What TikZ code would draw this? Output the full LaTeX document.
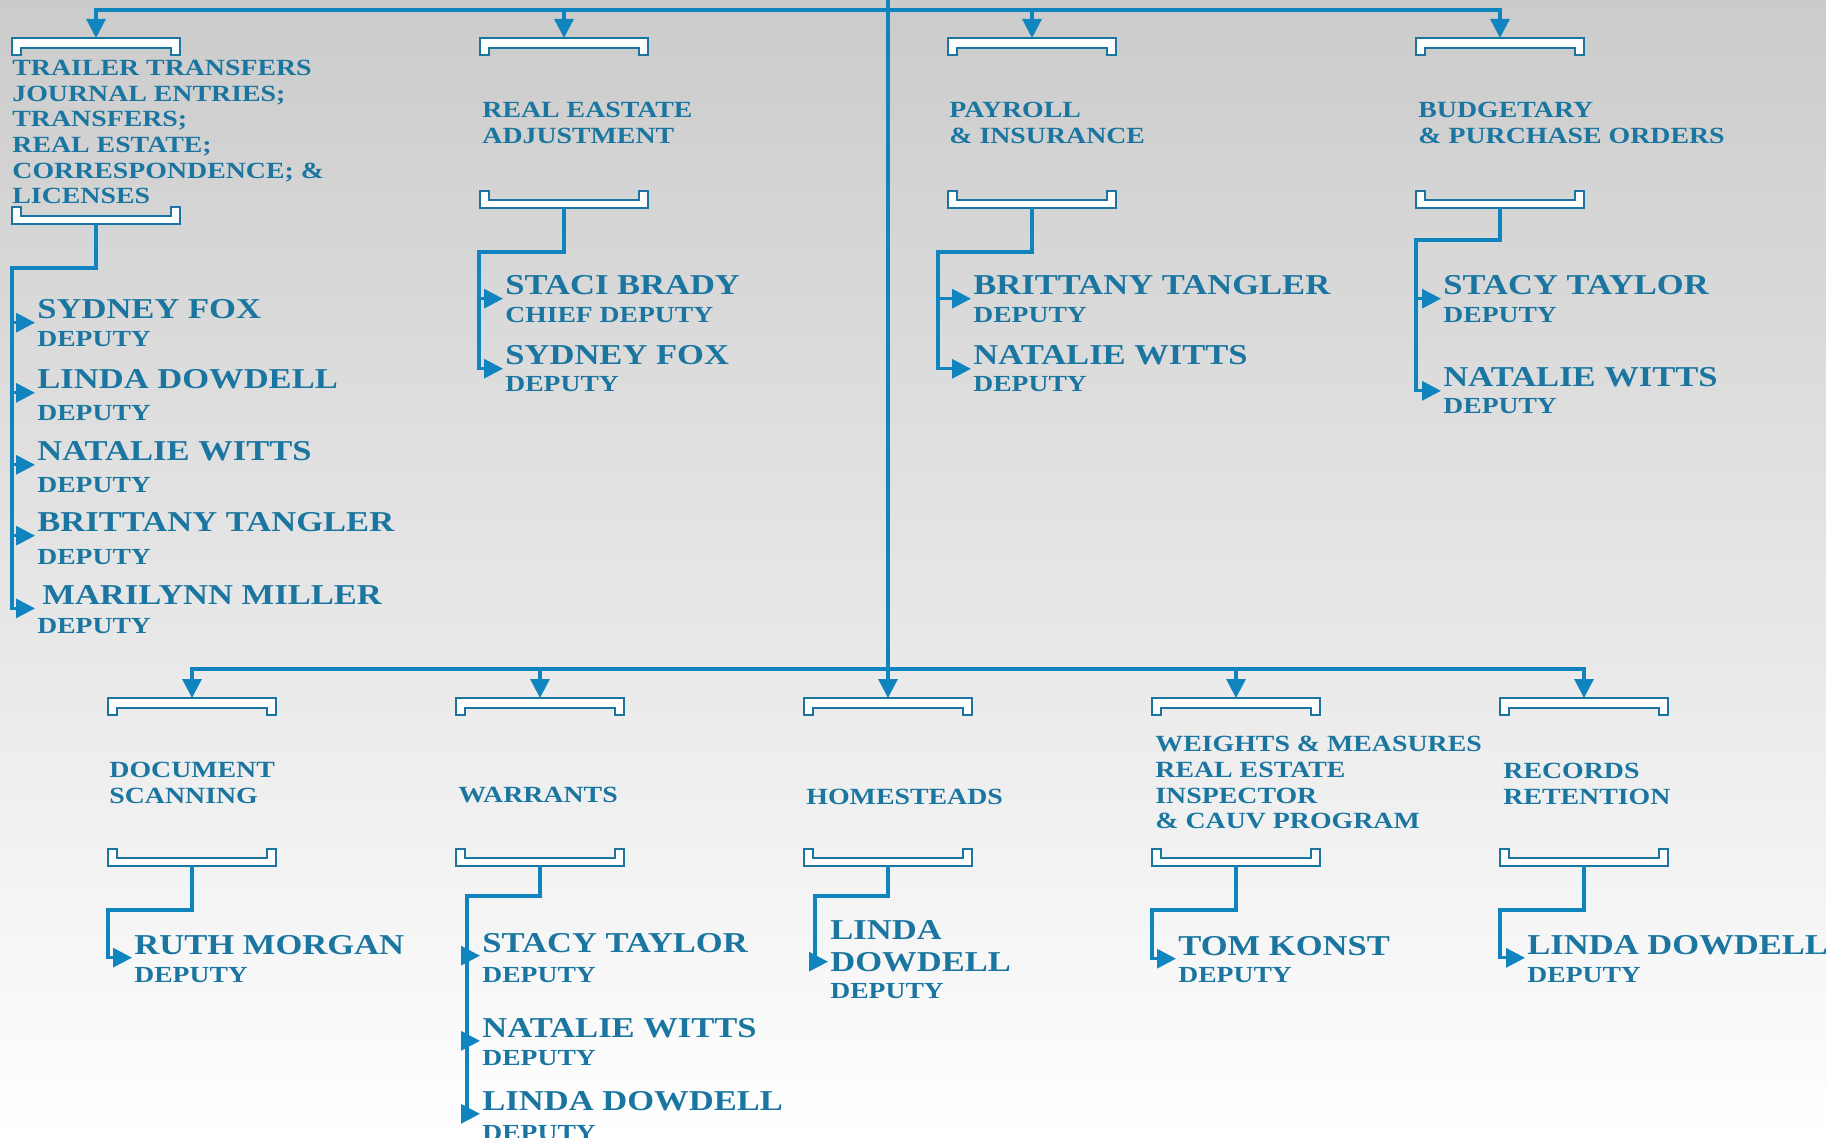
\documentclass[tikz,border=0pt]{standalone}
\usepackage{fontspec}
\newfontfamily\engr{Liberation Serif}[FakeStretch=1.2]
\usetikzlibrary{arrows.meta, positioning, calc}

\definecolor{linie}{HTML}{0F84BE}
\definecolor{schrift}{HTML}{1A76A0}
\definecolor{bgtop}{RGB}{203,203,203}
\definecolor{bgmid}{RGB}{234,234,234}

\tikzset{
  linie/.style={draw=linie, line width=1.6pt},
  pfeil/.style={linie, -{Triangle[length=9.5pt,width=9.5pt]}},
  abt/.style={anchor=north west, inner sep=0pt, align=left, text=schrift,
    font=\engr\bfseries\fontsize{11.6}{12.8}\selectfont},
  person/.style={anchor=base west, inner xsep=1pt, inner ysep=1.5pt, text=schrift,
    font=\engr\bfseries\fontsize{14.4}{16}\selectfont},
  amt/.style={anchor=base west, inner xsep=1pt, inner ysep=0pt, text=schrift,
    font=\engr\bfseries\fontsize{11.5}{12.8}\selectfont},
  klammer oben/.pic={
    \draw[draw=schrift, line width=1pt, fill=white]
      (-84,0) -- (84,0) -- (84,17) -- (75,17) -- (75,10) -- (-75,10) -- (-75,17) -- (-84,17) -- cycle;},
  klammer unten/.pic={
    \draw[draw=schrift, line width=1pt, fill=white]
      (-84,0) -- (84,0) -- (84,-17) -- (75,-17) -- (75,-8) -- (-75,-8) -- (-75,-17) -- (-84,-17) -- cycle;}
}

\begin{document}
\begin{tikzpicture}[x=0.5pt, y=-0.5pt]

\useasboundingbox (0,0) rectangle (1826,1138);

% Hintergrund
\shade[top color=bgtop, middle color=bgmid, bottom color=white] (0,0) rectangle (1826,1138);

% Koordinaten Hauptlinien
\coordinate (Q) at (888,0);
\coordinate (H1) at (888,10);
\coordinate (H2) at (888,669);

% Klammern obere Reihe
\coordinate (T1) at (96,38);
\coordinate (T2) at (564,38);
\coordinate (T3) at (1032,38);
\coordinate (T4) at (1500,38);
\coordinate (U1) at (96,224);
\coordinate (U2) at (564,208);
\coordinate (U3) at (1032,208);
\coordinate (U4) at (1500,208);

% Klammern untere Reihe
\coordinate (T5) at (192,698);
\coordinate (T6) at (540,698);
\coordinate (T7) at (888,698);
\coordinate (T8) at (1236,698);
\coordinate (T9) at (1584,698);
\coordinate (U5) at (192,866);
\coordinate (U6) at (540,866);
\coordinate (U7) at (888,866);
\coordinate (U8) at (1236,866);
\coordinate (U9) at (1584,866);

% Knickpunkte
\coordinate (K1) at (12,268);
\coordinate (K2) at (479,252);
\coordinate (K3) at (938,252);
\coordinate (K4) at (1416,240);
\coordinate (K5) at (108,910);
\coordinate (K6) at (467,896);
\coordinate (K7) at (815,896);
\coordinate (K8) at (1152,910);
\coordinate (K9) at (1500,910);

\pic at (T1) {klammer oben};
\pic at (T2) {klammer oben};
\pic at (T3) {klammer oben};
\pic at (T4) {klammer oben};
\pic at (T5) {klammer oben};
\pic at (T6) {klammer oben};
\pic at (T7) {klammer oben};
\pic at (T8) {klammer oben};
\pic at (T9) {klammer oben};

\pic at (U1) {klammer unten};
\pic at (U2) {klammer unten};
\pic at (U3) {klammer unten};
\pic at (U4) {klammer unten};
\pic at (U5) {klammer unten};
\pic at (U6) {klammer unten};
\pic at (U7) {klammer unten};
\pic at (U8) {klammer unten};
\pic at (U9) {klammer unten};

% Abteilungen
\node[abt] (a1) at (12,60) {TRAILER TRANSFERS\\JOURNAL ENTRIES;\\TRANSFERS;\\REAL ESTATE;\\CORRESPONDENCE; \&\\LICENSES};
\node[abt] (a2) at (482,102) {REAL EASTATE\\ADJUSTMENT};
\node[abt] (a3) at (949,102) {PAYROLL\\\& INSURANCE};
\node[abt] (a4) at (1418,102) {BUDGETARY\\\& PURCHASE ORDERS};
\node[abt] (a5) at (109,762) {DOCUMENT\\SCANNING};
\node[abt] (a6) at (458,787) {WARRANTS};
\node[abt] (a7) at (806,789) {HOMESTEADS};
\node[abt] (a8) at (1155,736) {WEIGHTS \& MEASURES\\REAL ESTATE\\INSPECTOR\\\& CAUV PROGRAM};
\node[abt] (a9) at (1503,763) {RECORDS\\RETENTION};

% Personen obere Reihe
\node[person] (p1a) at (35,319) {SYDNEY FOX};
\node[amt] (r1a) at ($(p1a.base west)+(0,28)$) {DEPUTY};
\node[person] (p1b) at (35,389) {LINDA DOWDELL};
\node[amt] (r1b) at ($(p1b.base west)+(0,32)$) {DEPUTY};
\node[person] (p1c) at (35,461) {NATALIE WITTS};
\node[amt] (r1c) at ($(p1c.base west)+(0,32)$) {DEPUTY};
\node[person] (p1d) at (35,532) {BRITTANY TANGLER};
\node[amt] (r1d) at ($(p1d.base west)+(0,33)$) {DEPUTY};
\node[person] (p1e) at (35,605) {\kern2.5pt MARILYNN MILLER};
\node[amt] (r1e) at ($(p1e.base west)+(0,29)$) {DEPUTY};

\node[person] (p2a) at (503,295) {STACI BRADY};
\node[amt] (r2a) at ($(p2a.base west)+(0,28)$) {CHIEF DEPUTY};
\node[person] (p2b) at (503,365) {SYDNEY FOX};
\node[amt] (r2b) at ($(p2b.base west)+(0,27)$) {DEPUTY};

\node[person] (p3a) at (971,295) {BRITTANY TANGLER};
\node[amt] (r3a) at ($(p3a.base west)+(0,28)$) {DEPUTY};
\node[person] (p3b) at (971,365) {NATALIE WITTS};
\node[amt] (r3b) at ($(p3b.base west)+(0,27)$) {DEPUTY};

\node[person] (p4a) at (1441,295) {STACY TAYLOR};
\node[amt] (r4a) at ($(p4a.base west)+(0,28)$) {DEPUTY};
\node[person] (p4b) at (1441,387) {NATALIE WITTS};
\node[amt] (r4b) at ($(p4b.base west)+(0,27)$) {DEPUTY};

% Personen untere Reihe
\node[person] (p5a) at (132,954) {RUTH MORGAN};
\node[amt] (r5a) at ($(p5a.base west)+(0,28)$) {DEPUTY};

\node[person] (p6a) at (480,952) {STACY TAYLOR};
\node[amt] (r6a) at ($(p6a.base west)+(0,30)$) {DEPUTY};
\node[person] (p6b) at (480,1037) {NATALIE WITTS};
\node[amt] (r6b) at ($(p6b.base west)+(0,28)$) {DEPUTY};
\node[person] (p6c) at (480,1110) {LINDA DOWDELL};
\node[amt] (r6c) at ($(p6c.base west)+(0,30)$) {DEPUTY};

\node[person] (p7a) at (828,939) {LINDA};
\node[person] (p7b) at (828,971) {DOWDELL};
\node[amt] (r7b) at ($(p7b.base west)+(0,27)$) {DEPUTY};

\node[person] (p8a) at (1176,955) {TOM KONST};
\node[amt] (r8a) at ($(p8a.base west)+(0,27)$) {DEPUTY};

\node[person] (p9a) at (1525,954) {LINDA DOWDELL};
\node[amt] (r9a) at ($(p9a.base west)+(0,28)$) {DEPUTY};

% Hauptlinien
\draw[pfeil] (H1) -| (T1);
\draw[pfeil] (H1) -| (T2);
\draw[pfeil] (H1) -| (T3);
\draw[pfeil] (H1) -| (T4);
\draw[pfeil] (Q) -- (T7);
\draw[pfeil] (H2) -| (T5);
\draw[pfeil] (H2) -| (T6);
\draw[pfeil] (H2) -| (T8);
\draw[pfeil] (H2) -| (T9);

% Verbindungen zu den Personen
\draw[pfeil] (U1) |- (K1) |- (p1e.south west);
\draw[pfeil] (K1) |- (p1a.south west);
\draw[pfeil] (K1) |- (p1b.south west);
\draw[pfeil] (K1) |- (p1c.south west);
\draw[pfeil] (K1) |- (p1d.south west);

\draw[pfeil] (U2) |- (K2) |- (p2b.south west);
\draw[pfeil] (K2) |- (p2a.south west);

\draw[pfeil] (U3) |- (K3) |- (p3b.south west);
\draw[pfeil] (K3) |- (p3a.south west);

\draw[pfeil] (U4) |- (K4) |- (p4b.south west);
\draw[pfeil] (K4) |- (p4a.south west);

\draw[pfeil] (U5) |- (K5) |- (p5a.south west);

\draw[pfeil] (U6) |- (K6) |- (p6c.south west);
\draw[pfeil] (K6) |- (p6a.south west);
\draw[pfeil] (K6) |- (p6b.south west);

\draw[pfeil] (U7) |- (K7) |- (p7b.west);

\draw[pfeil] (U8) |- (K8) |- (p8a.south west);

\draw[pfeil] (U9) |- (K9) |- (p9a.south west);

\end{tikzpicture}
\end{document}
